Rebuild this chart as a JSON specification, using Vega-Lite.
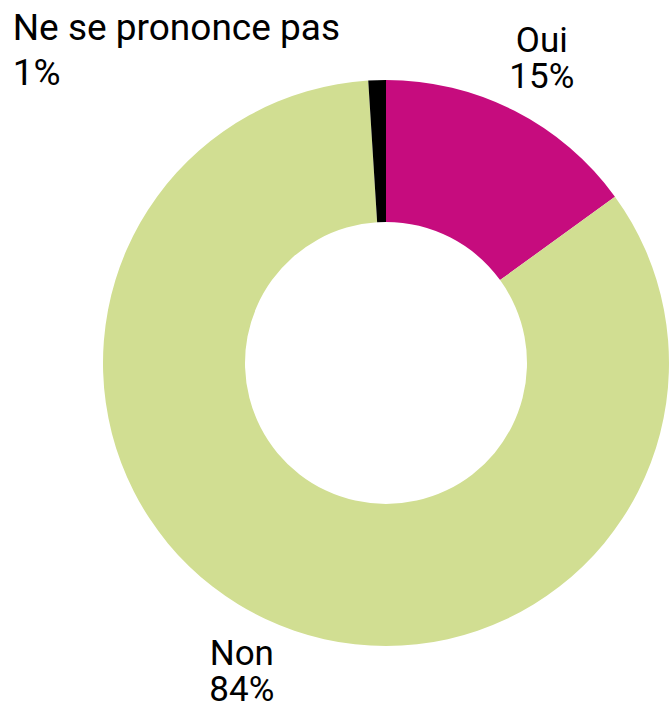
{
  "$schema": "https://vega.github.io/schema/vega-lite/v6.json",
  "autosize": "none",
  "width": 566,
  "height": 566,
  "padding": {"left": 103, "top": 80, "right": 0, "bottom": 62},
  "background": "white",
  "config": {"view": {"stroke": null}},
  "data": {
    "values": [
      {"category": "Oui", "value": 15, "order": 1, "label": "Oui\n15%"},
      {"category": "Non", "value": 84, "order": 2, "label": "Non\n84%"},
      {"category": "Ne se prononce pas", "value": 1, "order": 3, "label": "Ne se prononce pas\n1%"}
    ]
  },
  "encoding": {
    "theta": {"field": "value", "type": "quantitative", "stack": true},
    "order": {"field": "order", "type": "quantitative"}
  },
  "layer": [
    {
      "mark": {"type": "arc", "outerRadius": 283, "innerRadius": 141},
      "encoding": {
        "color": {
          "field": "category",
          "type": "nominal",
          "scale": {"domain": ["Oui", "Non", "Ne se prononce pas"], "range": ["#C60C7E", "#D1DE92", "#000000"]},
          "legend": null
        }
      }
    },
    {
      "transform": [{"filter": "datum.category != 'Ne se prononce pas'"}],
      "mark": {"type": "text", "radius": 341, "font": "Roboto", "fontSize": 35, "lineBreak": "\n", "lineHeight": 36, "align": "center", "baseline": "alphabetic", "dx": 1, "dy": -7, "color": "#000000"},
      "encoding": {"text": {"field": "label"}}
    },
    {
      "transform": [{"filter": "datum.category == 'Ne se prononce pas'"}],
      "mark": {"type": "text", "radius": 341, "font": "Roboto", "fontSize": 37, "lineBreak": "\n", "lineHeight": 45, "align": "left", "baseline": "alphabetic", "dx": -384, "dy": 18, "color": "#000000"},
      "encoding": {"text": {"field": "label"}}
    }
  ]
}
